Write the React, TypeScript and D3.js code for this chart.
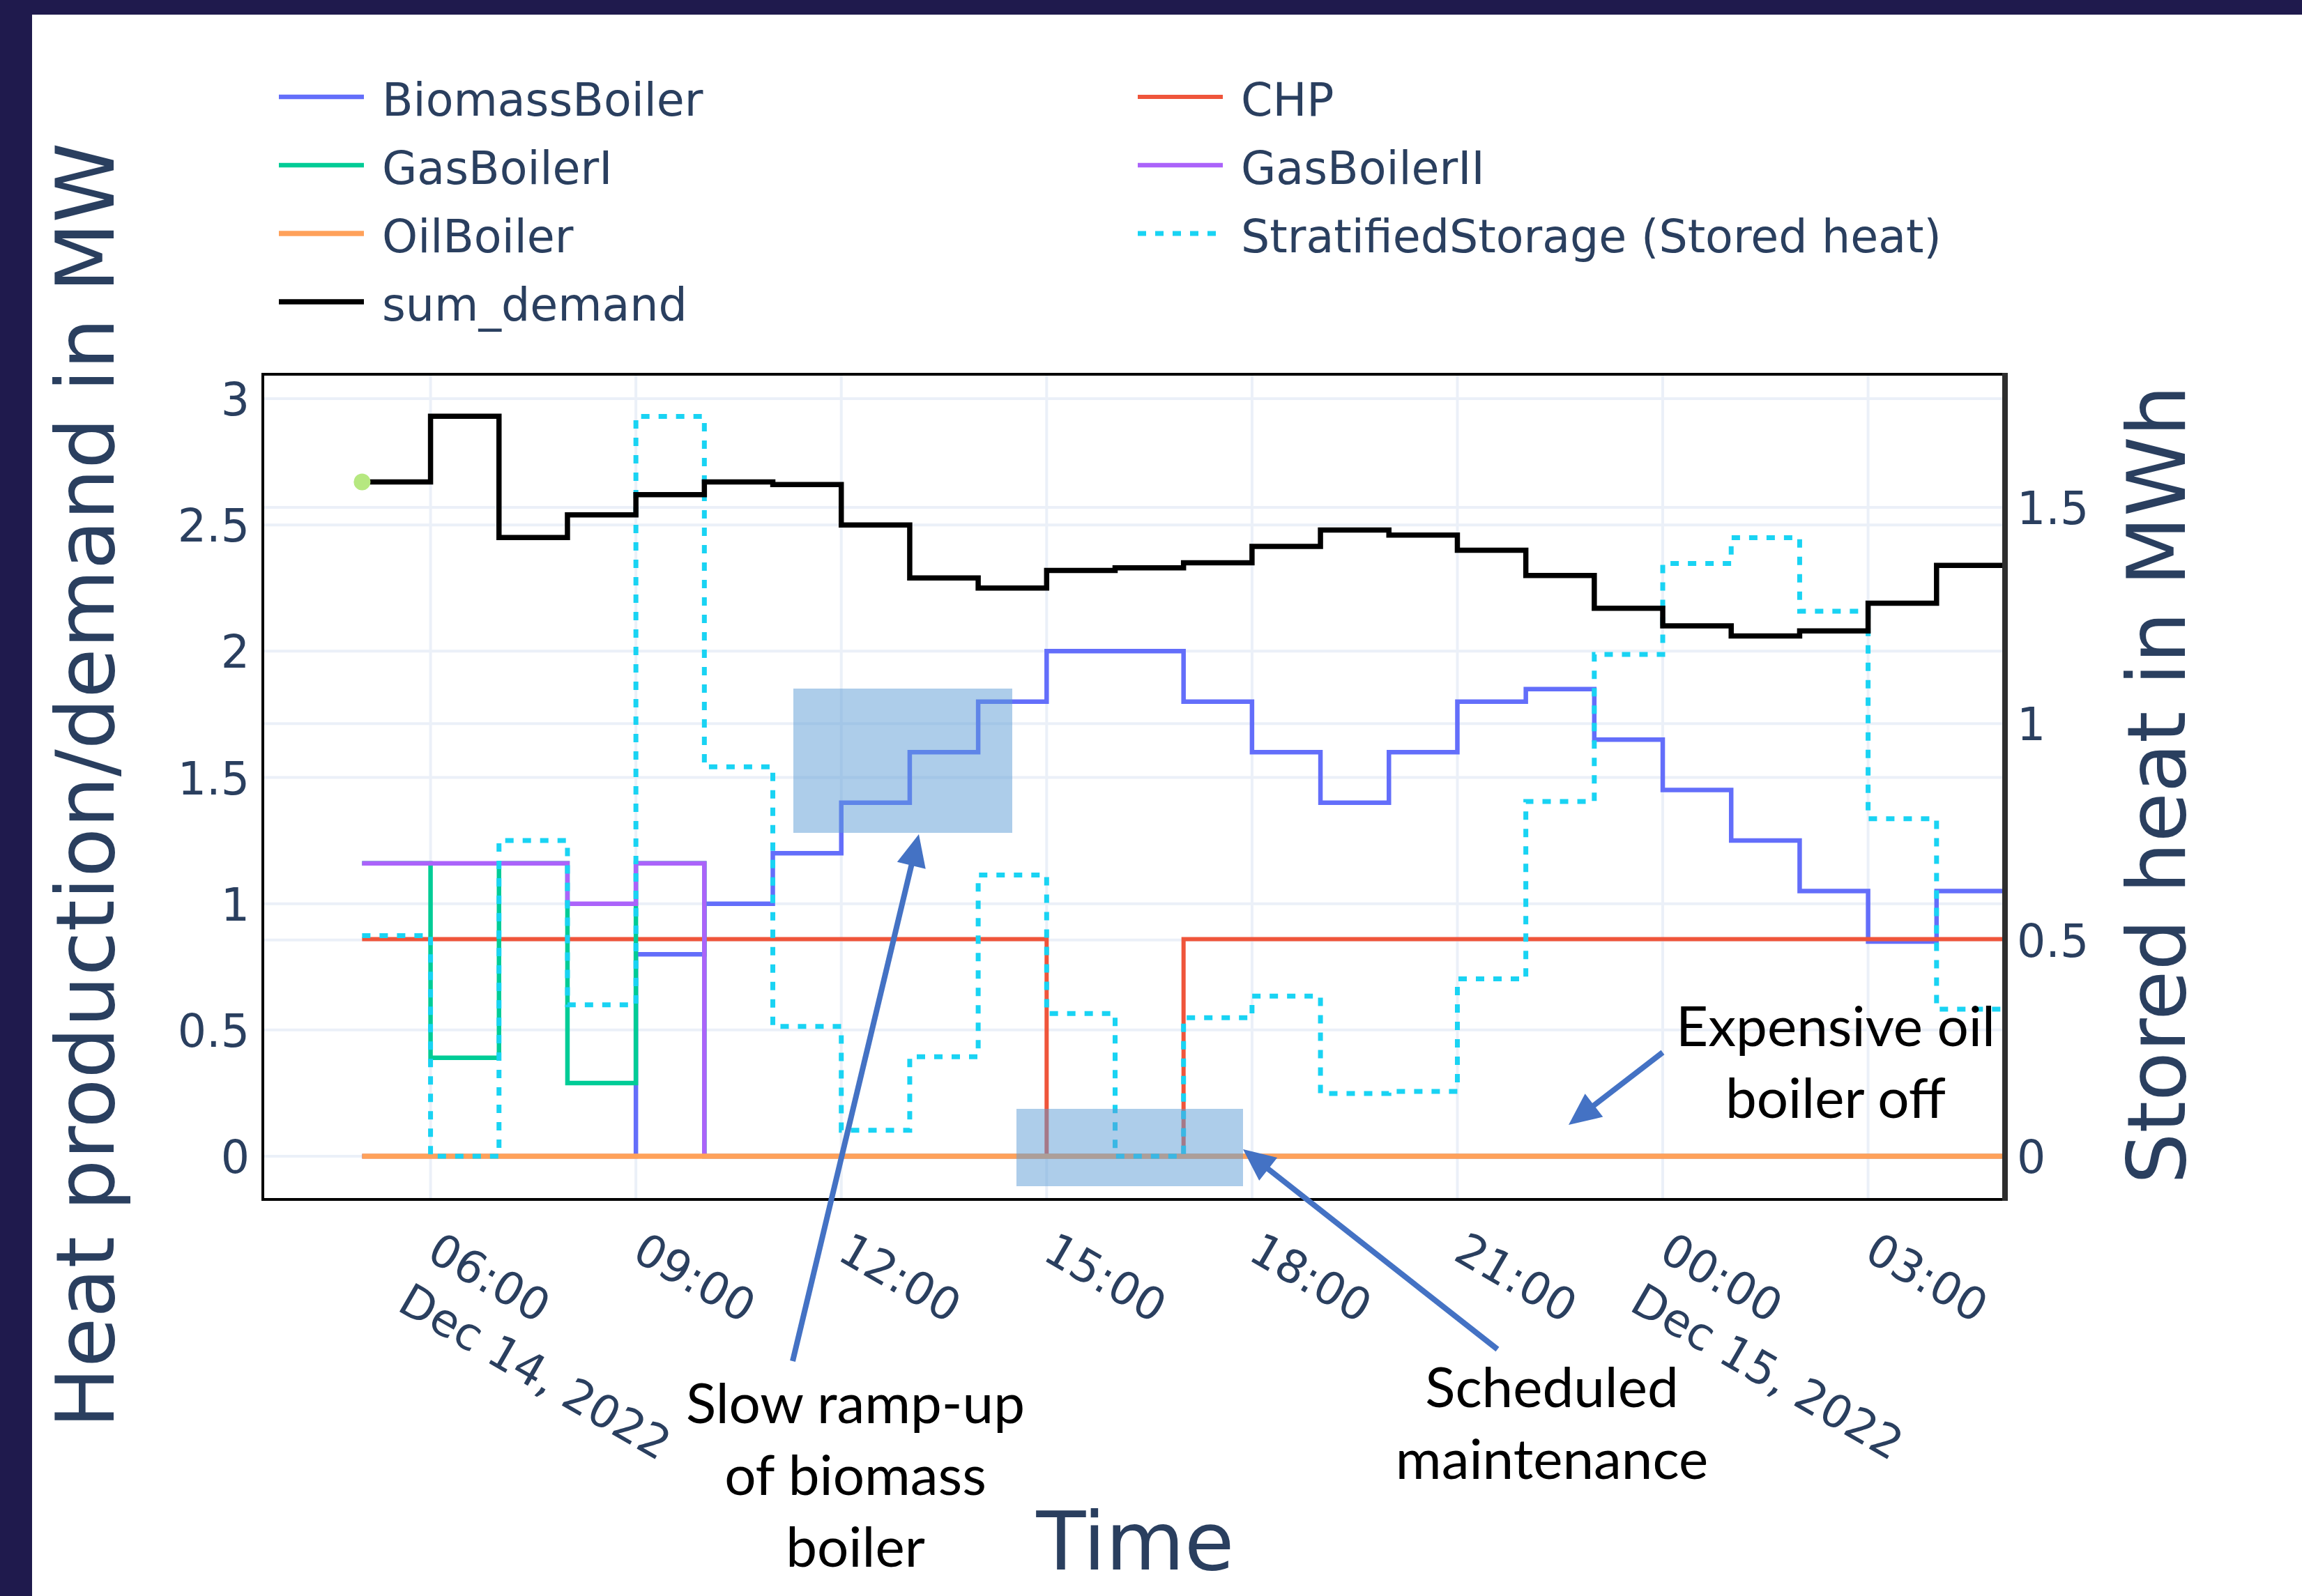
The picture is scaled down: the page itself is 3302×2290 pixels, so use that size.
import React, { useEffect, useRef } from 'react'
import * as d3 from 'd3'

// hourly dispatch, Dec 14 05:00 -> Dec 15 05:00 (step "hv")
const timestamps = [
  '2022-12-14T05:00', '2022-12-14T06:00', '2022-12-14T07:00', '2022-12-14T08:00',
  '2022-12-14T09:00', '2022-12-14T10:00', '2022-12-14T11:00', '2022-12-14T12:00',
  '2022-12-14T13:00', '2022-12-14T14:00', '2022-12-14T15:00', '2022-12-14T16:00',
  '2022-12-14T17:00', '2022-12-14T18:00', '2022-12-14T19:00', '2022-12-14T20:00',
  '2022-12-14T21:00', '2022-12-14T22:00', '2022-12-14T23:00', '2022-12-15T00:00',
  '2022-12-15T01:00', '2022-12-15T02:00', '2022-12-15T03:00', '2022-12-15T04:00',
  '2022-12-15T05:00',
]
const biomassBoiler = [0, 0, 0, 0, 0.8, 1.0, 1.2, 1.4, 1.6, 1.8, 2.0, 2.0, 1.8, 1.6, 1.4, 1.6, 1.8, 1.85, 1.65, 1.45, 1.25, 1.05, 0.85, 1.05, 1.24]
const chp = [0.86, 0.86, 0.86, 0.86, 0.86, 0.86, 0.86, 0.86, 0.86, 0.86, 0, 0, 0.86, 0.86, 0.86, 0.86, 0.86, 0.86, 0.86, 0.86, 0.86, 0.86, 0.86, 0.86, 0.86]
const gasBoilerI = [1.16, 0.39, 1.16, 0.29, 1.16, 0, 0, 0, 0, 0, 0, 0, 0, 0, 0, 0, 0, 0, 0, 0, 0, 0, 0, 0, 0]
const gasBoilerII = [1.16, 1.16, 1.16, 1.0, 1.16, 0, 0, 0, 0, 0, 0, 0, 0, 0, 0, 0, 0, 0, 0, 0, 0, 0, 0, 0, 0]
const oilBoiler = [0, 0, 0, 0, 0, 0, 0, 0, 0, 0, 0, 0, 0, 0, 0, 0, 0, 0, 0, 0, 0, 0, 0, 0, 0]
const storedHeat = [0.51, 0, 0.73, 0.35, 1.71, 0.9, 0.3, 0.06, 0.23, 0.65, 0.33, 0, 0.32, 0.37, 0.145, 0.15, 0.41, 0.82, 1.16, 1.37, 1.43, 1.26, 0.78, 0.34, 0]
const sumDemand = [2.67, 2.93, 2.45, 2.54, 2.62, 2.67, 2.66, 2.5, 2.29, 2.25, 2.32, 2.33, 2.35, 2.415, 2.48, 2.46, 2.4, 2.3, 2.17, 2.1, 2.06, 2.08, 2.19, 2.34, 2.44]
const markerTimes = ['2022-12-14T05:00']
const markerValues = [2.67]

const xTicks = [
  '2022-12-14T06:00', '2022-12-14T09:00', '2022-12-14T12:00', '2022-12-14T15:00',
  '2022-12-14T18:00', '2022-12-14T21:00', '2022-12-15T00:00', '2022-12-15T03:00',
]
const leftTicks = [0, 0.5, 1, 1.5, 2, 2.5, 3]
const rightTicks = [0, 0.5, 1, 1.5]

const series = [
  { name: 'BiomassBoiler', values: biomassBoiler, color: '#636efa', width: 6.5, axis: 'left' },
  { name: 'CHP', values: chp, color: '#EF553B', width: 6, axis: 'left' },
  { name: 'GasBoilerI', values: gasBoilerI, color: '#00cc96', width: 6.5, axis: 'left' },
  { name: 'GasBoilerII', values: gasBoilerII, color: '#ab63fa', width: 6.5, axis: 'left' },
  { name: 'OilBoiler', values: oilBoiler, color: '#FFA15A', width: 7.5, axis: 'left' },
  { name: 'StratifiedStorage (Stored heat)', values: storedHeat, color: '#19d3f3', width: 7, axis: 'right', dash: '12 13' },
  { name: 'sum_demand', values: sumDemand, color: '#000000', width: 7.5, axis: 'left' },
]

const svgWidth = 3302
const svgHeight = 2290
const margin = { left: 377, right: 426, top: 537, bottom: 569 }
const font = "'DejaVu Sans', Verdana, sans-serif"
const noteFont = "Lato, Carlito, Calibri, sans-serif"
const textColor = '#2a3f5f'

function App() {
  const ref = useRef<HTMLDivElement>(null)

  useEffect(() => {
    const root = d3.select(ref.current)
    root.selectAll('svg').remove()
    const width = svgWidth - margin.left - margin.right
    const height = svgHeight - margin.top - margin.bottom
    const left = margin.left
    const right = margin.left + width
    const top = margin.top
    const bottom = margin.top + height

    const parse = d3.utcParse('%Y-%m-%dT%H:%M')
    const times = timestamps.map(t => parse(t) as Date)

    const x = d3
      .scaleUtc()
      .domain([parse('2022-12-14T03:33') as Date, parse('2022-12-15T05:00') as Date])
      .range([left, right])
    const yLeft = d3.scaleLinear().domain([-0.1711, 3.0966]).range([bottom, top])
    const yRight = d3.scaleLinear().domain([-0.0999, 1.8076]).range([bottom, top])

    const svg = root
      .append('svg')
      .attr('width', svgWidth)
      .attr('height', svgHeight)
      .style('display', 'block')

    svg.append('rect').attr('width', svgWidth).attr('height', svgHeight).attr('fill', '#ffffff')
    // dark slide frame
    svg.append('rect').attr('x', 0).attr('y', 0).attr('width', svgWidth).attr('height', 21).attr('fill', '#1f1a4d')
    svg.append('rect').attr('x', 0).attr('y', 0).attr('width', 46).attr('height', svgHeight).attr('fill', '#1f1a4d')

    svg
      .append('clipPath')
      .attr('id', 'plot-clip')
      .append('rect')
      .attr('x', left)
      .attr('y', top)
      .attr('width', width)
      .attr('height', height)

    // grid
    const grid = svg.append('g').attr('stroke', '#EBF0F8').attr('stroke-width', 4)
    xTicks.forEach(t => {
      const px = x(parse(t) as Date)
      grid.append('line').attr('x1', px).attr('x2', px).attr('y1', top).attr('y2', bottom)
    })
    leftTicks.forEach(t => {
      grid.append('line').attr('x1', left).attr('x2', right).attr('y1', yLeft(t)).attr('y2', yLeft(t))
    })
    rightTicks.forEach(t => {
      grid.append('line').attr('x1', left).attr('x2', right).attr('y1', yRight(t)).attr('y2', yRight(t))
    })

    // traces
    const traces = svg.append('g').attr('clip-path', 'url(#plot-clip)')
    series.forEach(s => {
      const yScale = s.axis === 'right' ? yRight : yLeft
      const line = d3
        .line<number>()
        .x((d, i) => x(times[i]))
        .y(d => yScale(d))
        .curve(d3.curveStepAfter)
      traces
        .append('path')
        .attr('d', line(s.values))
        .attr('fill', 'none')
        .attr('stroke', s.color)
        .attr('stroke-width', s.width)
        .attr('stroke-dasharray', s.dash || null)
    })
    traces
      .selectAll('circle')
      .data(markerValues)
      .enter()
      .append('circle')
      .attr('cx', (d, i) => x(parse(markerTimes[i]) as Date))
      .attr('cy', d => yLeft(d))
      .attr('r', 12)
      .attr('fill', '#B6E880')

    // frame
    svg
      .append('path')
      .attr('d', `M${right},${top}H${left}V${bottom}H${right}`)
      .attr('fill', 'none')
      .attr('stroke', '#000')
      .attr('stroke-width', 4)
    svg
      .append('line')
      .attr('x1', right)
      .attr('x2', right)
      .attr('y1', top - 2)
      .attr('y2', bottom + 2)
      .attr('stroke', '#2e2e2e')
      .attr('stroke-width', 8)

    // tick labels
    const ticks = svg.append('g').attr('font-family', font).attr('font-size', 65).attr('fill', textColor)
    leftTicks.forEach(t => {
      ticks.append('text').attr('x', left - 19).attr('y', yLeft(t) + 24).attr('text-anchor', 'end').text(String(t))
    })
    rightTicks.forEach(t => {
      ticks.append('text').attr('x', right + 17).attr('y', yRight(t) + 24).text(String(t))
    })
    const fmtTime = d3.utcFormat('%H:%M')
    const fmtDate = d3.utcFormat('%b %-d, %Y')
    xTicks.forEach((t, i) => {
      const date = parse(t) as Date
      const label = ticks
        .append('text')
        .attr('transform', `translate(${x(date) - 8}, ${bottom + 85}) rotate(30)`)
      label.append('tspan').attr('x', 0).attr('dy', 0).text(fmtTime(date))
      if (i === 0 || date.getUTCHours() === 0) {
        label.append('tspan').attr('x', 0).attr('dy', 84).text(fmtDate(date))
      }
    })

    // axis titles
    const titles = svg.append('g').attr('font-family', font).attr('font-size', 116).attr('fill', textColor)
    titles
      .append('text')
      .attr('transform', `translate(163, ${(top + bottom) / 2 - 2}) rotate(-90)`)
      .attr('text-anchor', 'middle')
      .text('Heat production/demand in MW')
    titles
      .append('text')
      .attr('transform', `translate(3134, ${(top + bottom) / 2 - 3}) rotate(-90)`)
      .attr('text-anchor', 'middle')
      .text('Stored heat in MWh')
    titles
      .append('text')
      .attr('x', (left + right) / 2 + 2)
      .attr('y', 2252)
      .attr('text-anchor', 'middle')
      .text('Time')

    // legend (two columns, rows filled left to right)
    const legend = svg.append('g').attr('font-family', font).attr('font-size', 65).attr('fill', textColor)
    series.forEach((s, i) => {
      const col = i % 2
      const row = Math.floor(i / 2)
      const lx = col === 0 ? 400 : 1632
      const baseline = 166 + row * 98
      legend
        .append('line')
        .attr('x1', lx)
        .attr('x2', lx + 122)
        .attr('y1', baseline - 27)
        .attr('y2', baseline - 27)
        .attr('stroke', s.color)
        .attr('stroke-width', s.width)
        .attr('stroke-dasharray', s.dash || null)
      legend.append('text').attr('x', lx + 148).attr('y', baseline).text(s.name)
    })

    // call-outs drawn over the chart
    const notes = svg.append('g')
    const boxes = [
      { x0: 1138, y0: 988, x1: 1452, y1: 1195 },
      { x0: 1458, y0: 1591, x1: 1783, y1: 1702 },
    ]
    boxes.forEach(b => {
      notes
        .append('rect')
        .attr('x', b.x0)
        .attr('y', b.y0)
        .attr('width', b.x1 - b.x0)
        .attr('height', b.y1 - b.y0)
        .attr('fill', '#5b9bd5')
        .attr('opacity', 0.5)
    })
    const arrows = [
      { from: [1137, 1953], to: [1318, 1197] },
      { from: [2148, 1936], to: [1783, 1649] },
      { from: [2385, 1510], to: [2250, 1614] },
    ]
    arrows.forEach(a => {
      const [x0, y0] = a.from
      const [x1, y1] = a.to
      const len = Math.hypot(x1 - x0, y1 - y0)
      const ux = (x1 - x0) / len
      const uy = (y1 - y0) / len
      const bx = x1 - ux * 46
      const by = y1 - uy * 46
      notes
        .append('line')
        .attr('x1', x0)
        .attr('y1', y0)
        .attr('x2', bx + ux * 4)
        .attr('y2', by + uy * 4)
        .attr('stroke', '#4472C4')
        .attr('stroke-width', 8)
      notes
        .append('path')
        .attr('d', `M${x1},${y1}L${bx - uy * 21},${by + ux * 21}L${bx + uy * 21},${by - ux * 21}Z`)
        .attr('fill', '#4472C4')
    })
    const labels = [
      { lines: ['Slow ramp-up', 'of biomass', 'boiler'], x: 1227, y: 2042 },
      { lines: ['Scheduled', 'maintenance'], x: 2226, y: 2019 },
      { lines: ['Expensive oil', 'boiler off'], x: 2633, y: 1501 },
    ]
    labels.forEach(l => {
      const t = notes
        .append('text')
        .attr('font-family', noteFont)
        .attr('font-size', 80)
        .attr('fill', '#000')
        .attr('text-anchor', 'middle')
      l.lines.forEach((line, i) => {
        t.append('tspan').attr('x', l.x).attr('y', l.y + i * 103).text(line)
      })
    })
  }, [])

  return <div ref={ref} style={{ position: 'absolute', left: 0, top: 0 }} />
}

export default App
